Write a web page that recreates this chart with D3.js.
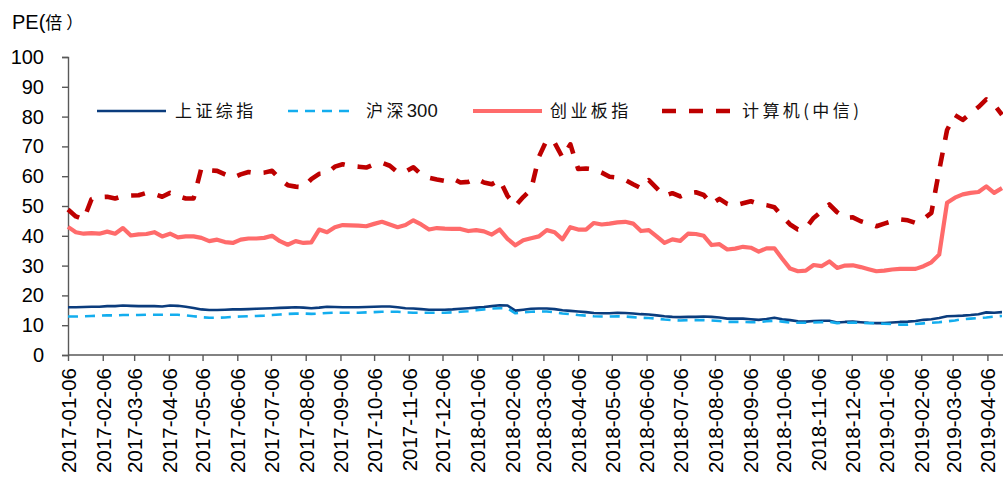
<!DOCTYPE html>
<html>
<head>
<meta charset="utf-8">
<script src="https://cdn.jsdelivr.net/npm/d3@7"></script>
<style>
  html, body { margin: 0; padding: 0; background: #fff; }
  svg { display: block; }
</style>
</head>
<body>
<svg id="chart" width="1003" height="477"></svg>
<script>
// Weekly PE (x) of four indices, Fridays from 2017-01-06 to 2019-04-19
const seriesNames = ["上证综指", "沪深300", "创业板指", "计算机(中信)"];

const shComposite = [
  16.0, 16.0, 16.1, 16.2, 16.2, 16.4, 16.4, 16.6, 16.5, 16.4,
  16.4, 16.4, 16.3, 16.6, 16.5, 16.2, 15.8, 15.3, 15.1, 15.1,
  15.2, 15.3, 15.3, 15.4, 15.5, 15.6, 15.7, 15.8, 15.9, 16.0,
  15.9, 15.7, 15.9, 16.2, 16.1, 16.0, 16.0, 16.0, 16.1, 16.2,
  16.3, 16.3, 16.0, 15.7, 15.6, 15.4, 15.2, 15.2, 15.2, 15.3,
  15.5, 15.7, 15.9, 16.1, 16.4, 16.7, 16.6, 14.9, 15.2, 15.5,
  15.6, 15.6, 15.4, 15.0, 14.8, 14.6, 14.4, 14.1, 14.0, 14.0,
  14.2, 14.1, 13.9, 13.7, 13.6, 13.3, 13.0, 12.8, 12.7, 12.8,
  12.8, 12.9, 12.8, 12.6, 12.2, 12.2, 12.2, 12.0, 11.8, 12.1,
  12.5, 12.0, 11.7, 11.3, 11.2, 11.4, 11.5, 11.5, 10.9, 11.1,
  11.2, 11.0, 10.8, 10.7, 10.7, 10.9, 11.1, 11.2, 11.4, 11.8,
  12.0, 12.4, 13.0, 13.1, 13.2, 13.4, 13.7, 14.3, 14.2, 14.4
];

const hs300 = [
  12.9, 12.9, 13.0, 13.1, 13.2, 13.3, 13.3, 13.4, 13.4, 13.4,
  13.5, 13.5, 13.5, 13.5, 13.5, 13.3, 13.0, 12.7, 12.5, 12.5,
  12.6, 12.8, 12.9, 13.0, 13.1, 13.2, 13.4, 13.6, 13.8, 13.9,
  13.9, 13.8, 13.9, 14.1, 14.2, 14.2, 14.2, 14.2, 14.3, 14.4,
  14.5, 14.5, 14.5, 14.3, 14.2, 14.2, 14.2, 14.2, 14.2, 14.3,
  14.5, 14.7, 15.0, 15.3, 15.6, 15.7, 15.6, 14.0, 14.3, 14.5,
  14.6, 14.6, 14.3, 13.9, 13.7, 13.4, 13.2, 13.0, 12.9, 12.9,
  13.0, 12.9, 12.7, 12.5, 12.4, 12.2, 11.9, 11.7, 11.6, 11.7,
  11.7, 11.7, 11.6, 11.4, 11.1, 11.1, 11.1, 11.0, 11.0, 11.3,
  11.5, 11.2, 10.9, 10.8, 10.8, 10.9, 11.0, 11.1, 10.7, 10.8,
  10.9, 10.8, 10.7, 10.6, 10.5, 10.4, 10.2, 10.2, 10.4, 10.6,
  10.8, 11.0, 11.3, 11.6, 12.0, 12.2, 12.4, 12.6, 12.9, 13.1
];

const chinext = [
  43.0, 41.2, 40.7, 40.9, 40.7, 41.4, 40.7, 42.6, 40.1, 40.5,
  40.6, 41.2, 39.8, 40.7, 39.5, 39.8, 39.8, 39.3, 38.2, 38.7,
  37.9, 37.6, 38.7, 39.1, 39.1, 39.3, 40.0, 38.2, 37.0, 38.2,
  37.6, 37.8, 42.1, 41.2, 42.9, 43.6, 43.5, 43.4, 43.2, 44.0,
  44.7, 43.8, 42.9, 43.6, 45.2, 43.8, 42.1, 42.6, 42.4, 42.3,
  42.3, 41.6, 41.9, 41.5, 40.4, 42.1, 39.0, 36.8, 38.5, 39.2,
  39.8, 41.9, 41.2, 38.8, 42.9, 42.1, 42.1, 44.3, 43.8, 44.1,
  44.5, 44.7, 44.1, 41.6, 41.9, 39.8, 37.6, 38.8, 38.3, 40.7,
  40.6, 40.0, 36.9, 37.2, 35.4, 35.7, 36.3, 36.0, 34.7, 35.8,
  35.8, 32.3, 29.0, 28.1, 28.3, 30.2, 29.8, 31.4, 29.2, 30.0,
  30.1, 29.5, 28.8, 28.1, 28.3, 28.7, 28.9, 28.9, 28.9, 29.8,
  31.1, 33.7, 51.1, 52.8, 53.9, 54.4, 54.7, 56.6, 54.4, 56.0
];

const computerCitic = [
  48.8, 46.5, 45.5, 52.3, 53.0, 53.1, 52.5, 53.3, 53.5, 53.6,
  54.4, 54.0, 53.1, 54.4, 53.3, 52.5, 52.5, 62.8, 62.0, 61.8,
  60.6, 59.5, 60.6, 61.4, 61.0, 61.2, 61.8, 59.0, 57.0, 56.5,
  56.3, 59.0, 60.8, 61.0, 63.2, 64.0, 63.4, 63.2, 62.9, 64.0,
  64.5, 63.5, 61.3, 61.5, 63.0, 60.6, 59.5, 58.9, 58.4, 59.2,
  57.9, 58.1, 59.2, 57.9, 57.3, 58.8, 53.4, 50.0, 53.0, 55.5,
  66.5, 72.2, 71.2, 66.3, 70.7, 62.4, 62.6, 62.3, 61.2, 59.8,
  59.5, 58.7, 57.3, 56.0, 58.7, 56.0, 53.4, 54.3, 53.2, 54.3,
  54.6, 53.7, 50.7, 52.4, 50.7, 50.2, 50.9, 51.6, 50.7, 50.3,
  49.6, 46.5, 43.8, 42.1, 42.6, 46.0, 48.2, 50.5, 47.9, 46.0,
  46.2, 44.9, 44.1, 43.2, 44.1, 44.9, 45.5, 45.2, 44.3, 45.6,
  47.7, 62.0, 75.5, 80.5, 78.9, 81.1, 83.2, 85.8, 84.0, 80.6
];

const monthTickLabels = [
  "2017-01-06", "2017-02-06", "2017-03-06", "2017-04-06", "2017-05-06", "2017-06-06",
  "2017-07-06", "2017-08-06", "2017-09-06", "2017-10-06", "2017-11-06", "2017-12-06",
  "2018-01-06", "2018-02-06", "2018-03-06", "2018-04-06", "2018-05-06", "2018-06-06",
  "2018-07-06", "2018-08-06", "2018-09-06", "2018-10-06", "2018-11-06", "2018-12-06",
  "2019-01-06", "2019-02-06", "2019-03-06", "2019-04-06"
];

const yTickValues = [0, 10, 20, 30, 40, 50, 60, 70, 80, 90, 100];

// Friday of each week in the sample
const weeks = d3.timeFriday.range(new Date(2017, 0, 6), new Date(2019, 3, 20));

const numFont = "Arial, 'Liberation Sans', sans-serif";
const cjkFont = "'Noto Sans CJK SC', 'Noto Sans', sans-serif";
const axisColor = "#595959";

const svg = d3.select("#chart");

const x = d3.scaleTime()
  .domain([weeks[0], weeks[weeks.length - 1]])
  .range([68, 1002]);

const y = d3.scaleLinear()
  .domain([0, 100])
  .range([355, 57]);

// Y axis
const yAxis = svg.append("g")
  .attr("transform", "translate(68,0)")
  .call(d3.axisLeft(y).tickValues(yTickValues).tickSize(6).tickPadding(18));
yAxis.select(".domain").attr("stroke", axisColor).attr("stroke-width", 1.4);
yAxis.selectAll(".tick line").attr("stroke", axisColor).attr("stroke-width", 1.4);
yAxis.selectAll(".tick text")
  .attr("fill", "#000")
  .style("font-family", numFont)
  .style("font-size", "20px");

// X axis with monthly ticks
const parseDay = d3.timeParse("%Y-%m-%d");
const xAxis = svg.append("g")
  .attr("transform", "translate(0,355)")
  .call(d3.axisBottom(x)
    .tickValues(monthTickLabels.map(parseDay))
    .tickSize(6)
    .tickFormat(d3.timeFormat("%Y-%m-%d")));
xAxis.select(".domain").remove();
xAxis.append("line")
  .attr("x1", 68).attr("x2", 1003)
  .attr("y1", 0).attr("y2", 0)
  .attr("stroke", axisColor).attr("stroke-width", 1.4);
xAxis.selectAll(".tick line").attr("stroke", axisColor).attr("stroke-width", 1.4);
xAxis.selectAll(".tick text")
  .attr("fill", "#000")
  .attr("transform", "rotate(-90)")
  .attr("x", -13)
  .attr("y", 0)
  .attr("dy", "0.36em")
  .style("text-anchor", "end")
  .style("font-family", numFont)
  .style("font-size", "20.5px");

// Series styling
const styles = [
  { color: "#0B3C7D", width: 2.6, dash: null },
  { color: "#13ADEE", width: 2.6, dash: "10,7" },
  { color: "#FF6B6B", width: 4.2, dash: null },
  { color: "#BE0000", width: 4.6, dash: "14,13" }
];
const allSeries = [shComposite, hs300, chinext, computerCitic];

const line = d3.line()
  .x((d, i) => x(weeks[i]))
  .y(d => y(d));

allSeries.forEach((vals, k) => {
  const st = styles[k];
  svg.append("path")
    .datum(vals)
    .attr("d", line)
    .attr("fill", "none")
    .attr("stroke", st.color)
    .attr("stroke-width", st.width)
    .attr("stroke-linejoin", "round")
    .attr("stroke-dasharray", st.dash);
});

// Legend: CJK characters are spread out, Latin digits stay tight
const legendY = 111;
const legendItems = [
  { x0: 97, x1: 166, tx: 175 },
  { x0: 288, x1: 353, tx: 366 },
  { x0: 473, x1: 542, tx: 550 },
  { x0: 662, x1: 734, tx: 742 }
];
legendItems.forEach((it, k) => {
  const st = styles[k];
  svg.append("line")
    .attr("x1", it.x0).attr("x2", it.x1)
    .attr("y1", legendY).attr("y2", legendY)
    .attr("stroke", st.color)
    .attr("stroke-width", st.width)
    .attr("stroke-dasharray", st.dash);
  const t = svg.append("text")
    .attr("x", it.tx)
    .attr("y", legendY)
    .attr("dy", "0.36em")
    .attr("fill", "#111")
    .style("font-size", "17px");
  const runs = seriesNames[k].match(/[0-9]+|[^0-9]+/g);
  runs.forEach(r => {
    const digits = /^[0-9]+$/.test(r);
    t.append("tspan")
      .style("font-family", digits ? numFont : cjkFont)
      .style("font-size", digits ? "18.5px" : "17px")
      .style("letter-spacing", digits ? "0px" : "3.4px")
      .text(r);
  });
});

// Unit label
const unit = svg.append("text")
  .attr("x", 12)
  .attr("y", 29)
  .attr("fill", "#000");
unit.append("tspan").style("font-family", numFont).style("font-size", "20px").text("PE(");
unit.append("tspan").style("font-family", cjkFont).style("font-size", "17px").style("letter-spacing", "4px").text("倍）");
</script>
</body>
</html>
